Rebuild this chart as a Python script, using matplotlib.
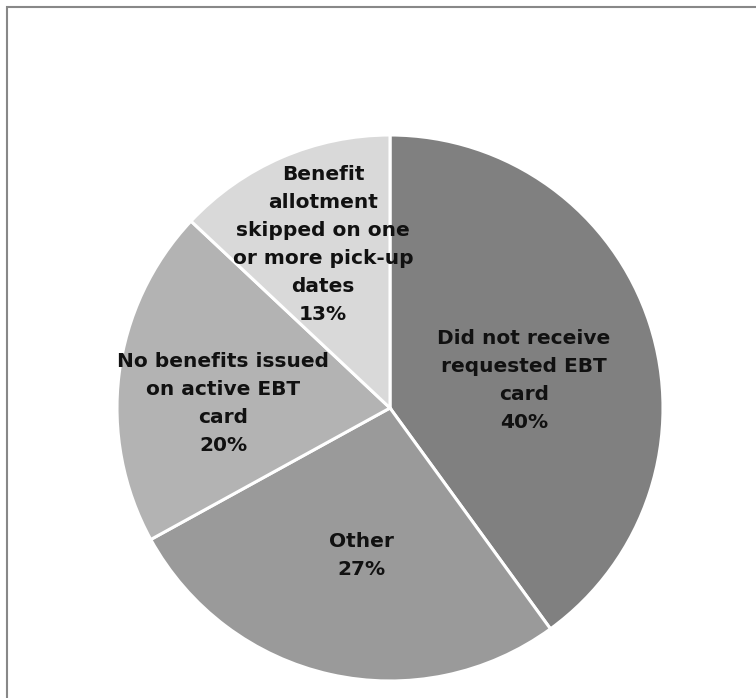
import matplotlib.pyplot as plt
from matplotlib.patches import Rectangle

labels = ["Did not receive\nrequested EBT\ncard", "Other",
          "No benefits issued\non active EBT\ncard",
          "Benefit\nallotment\nskipped on one\nor more pick-up\ndates"]
shares = [40, 27, 20, 13]
colors = ["#808080", "#9a9a9a", "#b3b3b3", "#d9d9d9"]
# label spots inside each slice (pie radius = 1)
label_xy = [(0.49, 0.10), (-0.105, -0.54), (-0.61, 0.015), (-0.245, 0.60)]

fig = plt.figure(figsize=(7.56, 6.98), dpi=100)
W, H = 756, 698
cx, cy, r = 390, 408, 273
ax = fig.add_axes([(cx - r) / W, (H - cy - r) / H, 2 * r / W, 2 * r / H])

ax.pie(shares, colors=colors, startangle=90, counterclock=False,
       wedgeprops=dict(edgecolor="white", linewidth=2.2))
ax.set_xlim(-1, 1)
ax.set_ylim(-1, 1)
ax.set_aspect("equal")

for lab, v, (x, y) in zip(labels, shares, label_xy):
    ax.text(x, y, f"{lab}\n{v}%", ha="center", va="center", fontsize=14.5,
            fontweight="bold", color="#111111", linespacing=1.6)

# chart frame (runs off the right and bottom of the picture)
fig.patches.append(Rectangle((7 / W, -0.1), 1.2, 1 - 7 / H + 0.1,
                             transform=fig.transFigure, fill=False,
                             edgecolor="#888888", linewidth=1.5))

fig.savefig("out.png", dpi=100)
